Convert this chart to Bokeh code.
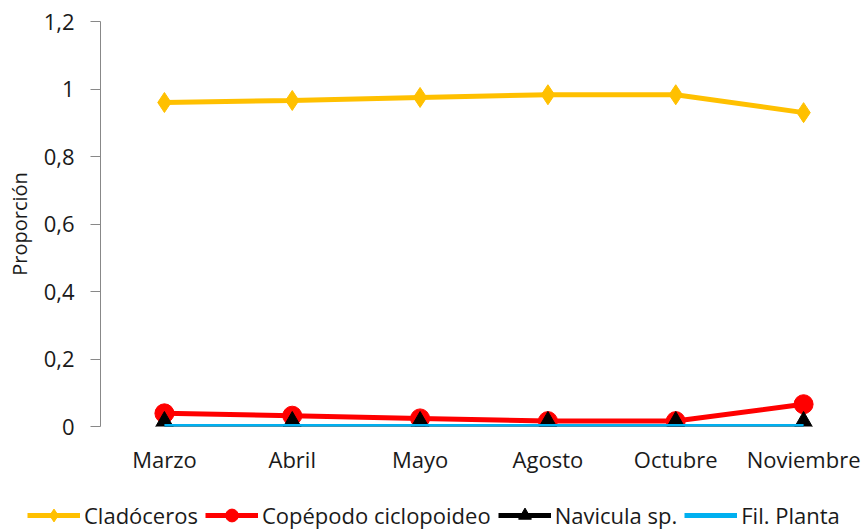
from bokeh.plotting import figure
from bokeh.layouts import column, row
from bokeh.models import Range1d, FixedTicker, Legend, LegendItem
from bokeh.embed import file_html
from bokeh.resources import INLINE

meses = ["Marzo", "Abril", "Mayo", "Agosto", "Octubre", "Noviembre"]
cladoceros = [0.960, 0.966, 0.975, 0.983, 0.983, 0.930]
copepodo = [0.039, 0.032, 0.024, 0.016, 0.016, 0.066]
navicula = [0.0, 0.0, 0.0, 0.0, 0.0, 0.0]
fil_planta = [0.0, 0.0, 0.0, 0.0, 0.0, 0.0]
series_names = ["Cladóceros", "Copépodo ciclopoideo", "Navicula sp.", "Fil. Planta"]
ytick_values = [0, 0.2, 0.4, 0.6, 0.8, 1.0, 1.2]
ytick_labels = ["0", "0,2", "0,4", "0,6", "0,8", "1", "1,2"]

FONT = "Open Sans"
TXT = "#1a1a1a"

p = figure(width=867, height=489, x_range=meses, y_range=Range1d(0, 1.2),
           output_backend="svg", toolbar_location=None,
           min_border_left=100, min_border_top=21, min_border_right=0,
           min_border_bottom=63)
p.x_range.range_padding = 0
p.outline_line_color = None
p.xgrid.grid_line_color = None
p.ygrid.grid_line_color = None

# y axis
p.yaxis.ticker = FixedTicker(ticks=ytick_values)
p.yaxis.major_label_overrides = dict(zip(ytick_values, ytick_labels))
p.yaxis.axis_line_color = "#888888"
p.yaxis.major_tick_line_color = "#888888"
p.yaxis.major_tick_out = 10
p.yaxis.major_tick_in = 0
p.yaxis.minor_tick_line_color = None
p.yaxis.major_label_standoff = 16
p.yaxis.major_label_text_font = FONT
p.yaxis.major_label_text_font_size = "22px"
p.yaxis.major_label_text_color = TXT
p.yaxis.axis_label = "Proporción"
p.yaxis.axis_label_text_font = FONT
p.yaxis.axis_label_text_font_size = "20px"
p.yaxis.axis_label_text_font_style = "normal"
p.yaxis.axis_label_text_color = TXT
p.yaxis.axis_label_standoff = 8

# x axis
p.xaxis.axis_line_color = None
p.xaxis.major_tick_line_color = None
p.xaxis.minor_tick_line_color = None
p.xaxis.major_label_standoff = 11
p.xaxis.major_label_text_font = FONT
p.xaxis.major_label_text_font_size = "22px"
p.xaxis.major_label_text_color = TXT

YEL = "#FFC000"
RED = "#FF0000"
BLK = "#000000"
BLU = "#00B0F0"

p.line(meses, cladoceros, line_color=YEL, line_width=5)
p.scatter(meses, cladoceros, marker="diamond", size=20, fill_color=YEL, line_color=YEL)
p.line(meses, copepodo, line_color=RED, line_width=5)
p.scatter(meses, copepodo, marker="circle", size=19, fill_color=RED, line_color=RED)
p.line(meses, navicula, line_color=BLK, line_width=5)
p.scatter(meses, navicula, marker="triangle", size=26, fill_color=BLK, line_color=BLK)
p.line(meses, fil_planta, line_color=BLU, line_width=5)

# legend strip below the chart (its series are drawn outside its visible range)
lg = figure(width=867, height=40, x_range=Range1d(0, 5), y_range=Range1d(10, 11),
            output_backend="svg", toolbar_location=None,
            x_axis_location=None, y_axis_location=None,
            min_border=0, min_border_left=0, min_border_right=0,
            min_border_top=0, min_border_bottom=0)
lg.xgrid.grid_line_color = None
lg.ygrid.grid_line_color = None
lg.outline_line_color = None

idx = list(range(len(meses)))
r1l = lg.line(idx, cladoceros, line_color=YEL, line_width=5)
r1m = lg.scatter(idx, cladoceros, marker="diamond", fill_color=YEL, line_color=YEL)
r2l = lg.line(idx, copepodo, line_color=RED, line_width=5)
r2m = lg.scatter(idx, copepodo, marker="circle", fill_color=RED, line_color=RED)
r3l = lg.line(idx, navicula, line_color=BLK, line_width=5)
r3m = lg.scatter(idx, navicula, marker="triangle", fill_color=BLK, line_color=BLK)
r4l = lg.line(idx, fil_planta, line_color=BLU, line_width=5)

legend = Legend(items=[
    LegendItem(label=series_names[0], renderers=[r1l, r1m]),
    LegendItem(label=series_names[1], renderers=[r2l, r2m]),
    LegendItem(label=series_names[2], renderers=[r3l, r3m]),
    LegendItem(label=series_names[3], renderers=[r4l]),
], orientation="horizontal", location=(27, -2))
legend.label_text_font = FONT
legend.label_text_font_size = "22px"
legend.label_text_color = TXT
legend.glyph_width = 53
legend.glyph_height = 32
legend.label_standoff = 4
legend.spacing = 7
legend.padding = 0
legend.margin = 0
legend.border_line_color = None
legend.background_fill_alpha = 0
lg.add_layout(legend, "center")

layout = column(row(p), row(lg), spacing=0)
open("out.html", "w").write(file_html(layout, INLINE))
